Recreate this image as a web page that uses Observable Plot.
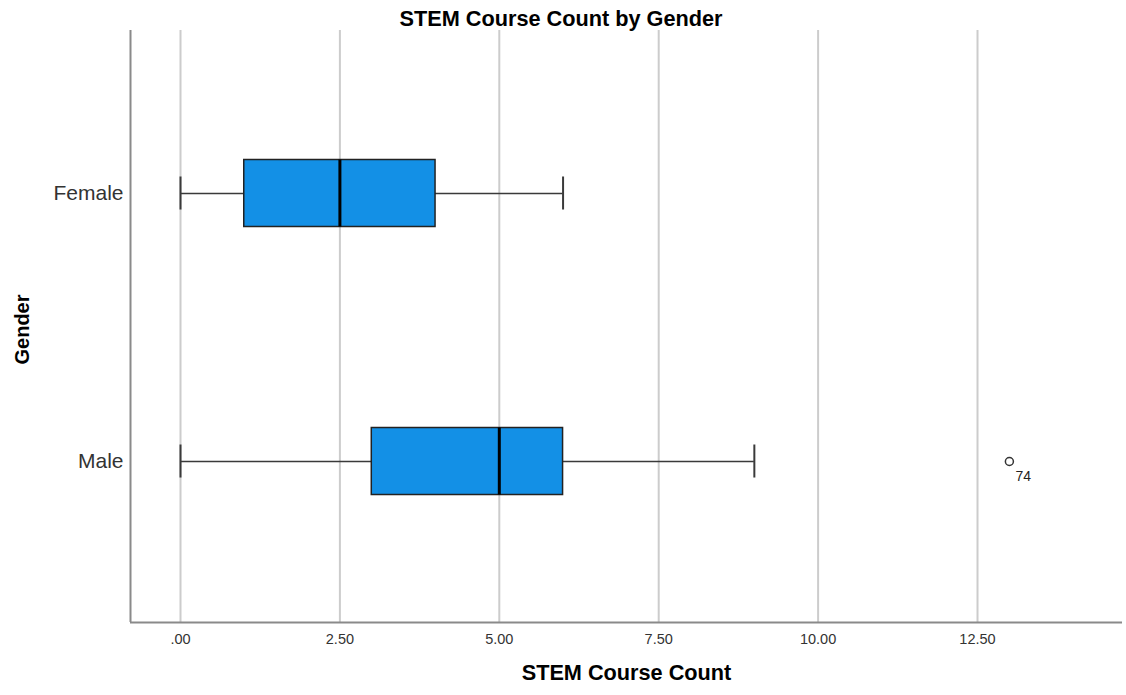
<!DOCTYPE html>
<html>
<head>
<meta charset="utf-8">
<script src="https://cdn.jsdelivr.net/npm/d3@7"></script>
<script src="https://cdn.jsdelivr.net/npm/@observablehq/plot@0.6"></script>
<style>
  html, body { margin: 0; padding: 0; background: #fff; }
  #wrap { position: relative; width: 1126px; height: 695px; font-family: "Liberation Sans", Arial, sans-serif; }
  #title { position: absolute; left: 0; top: 5px; width: 1122px; text-align: center; font-size: 21.7px; font-weight: bold; color: #000; line-height: 28px; }
  svg { display: block; }
</style>
</head>
<body>
<div id="wrap">
  <div id="chart"></div>
  <div id="title">STEM Course Count by Gender</div>
</div>
<script>
const genders = ["Female", "Male"];
const whiskerLow = [0, 0];
const quartile1 = [1, 3];
const medians = [2.5, 5];
const quartile3 = [4, 6];
const whiskerHigh = [6, 9];
const outlierGender = ["Male"];
const outlierValue = [13];
const outlierCase = ["74"];
const xTicks = [0, 2.5, 5, 7.5, 10, 12.5];
const xLabel = "STEM Course Count";
const yLabel = "Gender";

// y position: Male at 0, Female at 1
const yPos = g => genders.length - 1 - genders.indexOf(g);
const rows = genders.map((g, i) => ({
  g, y: yPos(g), lo: whiskerLow[i], q1: quartile1[i], med: medians[i], q3: quartile3[i], hi: whiskerHigh[i]
}));
const outliers = outlierGender.map((g, i) => ({ y: yPos(g), v: outlierValue[i], label: outlierCase[i] }));

const xDomain = [-0.7842, 14.774];
const yDomain = [-0.6007, 1.6082];
const boxHalf = 0.125, capHalf = 0.0616;
const font = "'Liberation Sans', Arial, sans-serif";

const chart = Plot.plot({
  width: 1126,
  height: 695,
  marginTop: 30,
  marginBottom: 73,
  marginLeft: 130,
  marginRight: 4,
  style: { fontFamily: font, background: "#fff", overflow: "visible" },
  x: { domain: xDomain, label: null },
  y: { domain: yDomain, label: null },
  marks: [
    Plot.ruleX(xTicks, { stroke: "#cccccc", strokeWidth: 2 }),
    Plot.ruleX([xDomain[0]], { stroke: "#8a8a8a", strokeWidth: 2 }),
    Plot.ruleY([yDomain[0]], { stroke: "#8a8a8a", strokeWidth: 2 }),
    Plot.axisX({ ticks: xTicks, tickSize: 0, tickPadding: 11, fontSize: 14.5, fill: "#333",
      tickFormat: d => d === 0 ? ".00" : d.toFixed(2), label: null }),
    Plot.axisY({ ticks: rows.map(r => r.y), tickSize: 0, tickPadding: 7, fontSize: 21, fill: "#333",
      tickFormat: v => genders[genders.length - 1 - v], label: null }),
    // whiskers
    Plot.ruleY(rows, { y: "y", x1: "lo", x2: "hi", stroke: "#3a3a3a", strokeWidth: 1.6 }),
    Plot.ruleX(rows, { x: "lo", y1: d => d.y - capHalf, y2: d => d.y + capHalf, stroke: "#3a3a3a", strokeWidth: 2 }),
    Plot.ruleX(rows, { x: "hi", y1: d => d.y - capHalf, y2: d => d.y + capHalf, stroke: "#3a3a3a", strokeWidth: 2 }),
    // boxes
    Plot.rect(rows, { x1: "q1", x2: "q3", y1: d => d.y - boxHalf, y2: d => d.y + boxHalf,
      fill: "#1390e6", stroke: "#222", strokeWidth: 1.5 }),
    Plot.ruleX(rows, { x: "med", y1: d => d.y - boxHalf, y2: d => d.y + boxHalf, stroke: "#000", strokeWidth: 3 }),
    // outliers
    Plot.dot(outliers, { x: "v", y: "y", r: 4, stroke: "#333", strokeWidth: 1.5, fill: "none" }),
    Plot.text(outliers, { x: "v", y: "y", text: "label", dx: 6, dy: 15, textAnchor: "start", fontSize: 14, fill: "#222" }),
    // axis titles
    Plot.text([xLabel], { frameAnchor: "bottom", dy: 57.5, fontSize: 21.7, fontWeight: "bold", fill: "#000" }),
    Plot.text([yLabel], { frameAnchor: "left", textAnchor: "middle", rotate: -90, dx: -107.5, dy: 3, fontSize: 20, fontWeight: "bold", fill: "#000" })
  ]
});
document.getElementById("chart").appendChild(chart);
</script>
</body>
</html>
